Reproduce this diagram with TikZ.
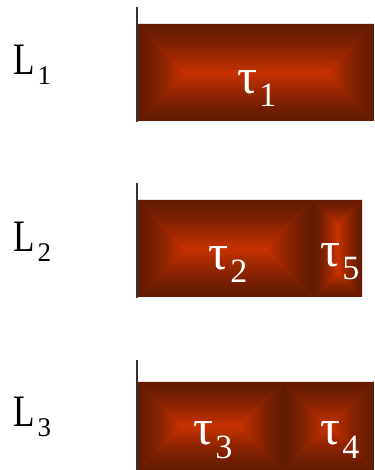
\documentclass[tikz,border=0pt]{standalone}
\usepackage{fontspec}
\setmainfont{Liberation Serif}
\definecolor{edgebrown}{HTML}{621A00}
\definecolor{coreorange}{HTML}{C83200}
\definecolor{axisgray}{HTML}{333333}
\colorlet{rampA}{coreorange!15!edgebrown}
\colorlet{rampB}{coreorange!39!edgebrown}
\colorlet{rampC}{coreorange!68!edgebrown}
\pgfdeclareverticalshading{rampV}{100bp}{color(0bp)=(coreorange); color(25bp)=(coreorange); color(37.5bp)=(rampC); color(50bp)=(rampB); color(62.5bp)=(rampA); color(75bp)=(edgebrown); color(100bp)=(edgebrown)}
\newcommand\shadebox[4]{%
 \pgfmathsetmacro\sbD{min(#3-#1,#4-#2)/2}%
 \pgfmathsetmacro\sbL{#1+\sbD}%
 \pgfmathsetmacro\sbR{#3-\sbD}%
 \pgfmathsetmacro\sbB{#2+\sbD}%
 \pgfmathsetmacro\sbT{#4-\sbD}%
 \fill[coreorange] (#1,#2) rectangle (#3,#4);
 \shade[shading=rampV, shading angle=0] (#1,#4) -- (#3,#4) -- (\sbR,\sbT) -- (\sbL,\sbT) -- cycle;
 \shade[shading=rampV, shading angle=180] (#1,#2) -- (#3,#2) -- (\sbR,\sbB) -- (\sbL,\sbB) -- cycle;
 \shade[shading=rampV, shading angle=90] (#1,#2) -- (#1,#4) -- (\sbL,\sbT) -- (\sbL,\sbB) -- cycle;
 \shade[shading=rampV, shading angle=-90] (#3,#2) -- (#3,#4) -- (\sbR,\sbT) -- (\sbR,\sbB) -- cycle;
}
\newcommand\taulab[1]{\fontsize{50}{50}\selectfont τ\kern2pt\raisebox{-13pt}{\fontsize{34}{34}\selectfont #1}}
\newcommand\Llab[1]{\fontsize{45}{45}\selectfont\scalebox{0.78}[1]{L}\kern3pt\raisebox{-10pt}{\fontsize{27}{27}\selectfont #1}}
\tikzset{
  lanelabel/.style={anchor=base west, inner sep=0pt, text=black},
  tasklabel/.style={anchor=base west, inner sep=0pt, text=white},
  axisline/.style={draw=axisgray, line width=1.6pt}
}
\begin{document}
\begin{tikzpicture}[x=1pt,y=1pt]
\useasboundingbox (0,0) rectangle (374,470);
% lane 1
\shadebox{137}{349}{374}{446}
\coordinate (a1top) at (137,463);
\coordinate (a1bot) at (137,348);
\draw[axisline] (a1top) -- (a1bot);
% lane 2
\shadebox{137}{173}{313}{270}
\shadebox{313}{173}{362}{270}
\coordinate (a2top) at (137,287);
\coordinate (a2bot) at (137,172);
\draw[axisline] (a2top) -- (a2bot);
% lane 3
\shadebox{137}{0}{283}{88}
\shadebox{283}{0}{374}{88}
\coordinate (a3top) at (137,110);
\coordinate (a3bot) at (137,0);
\draw[axisline] (a3top) -- (a3bot);
% labels
\node[lanelabel] (L1) at (13,395) {\Llab{1}};
\node[lanelabel] (L2) at (13,218) {\Llab{2}};
\node[lanelabel] (L3) at (13,43) {\Llab{3}};
\node[tasklabel] (t1) at (237,376) {\taulab{1}};
\node[tasklabel] (t2) at (208,200) {\taulab{2}};
\node[tasklabel] (t5) at (320,203) {\taulab{5}};
\node[tasklabel] (t3) at (193,25) {\taulab{3}};
\node[tasklabel] (t4) at (320,25) {\taulab{4}};
\end{tikzpicture}
\end{document}
